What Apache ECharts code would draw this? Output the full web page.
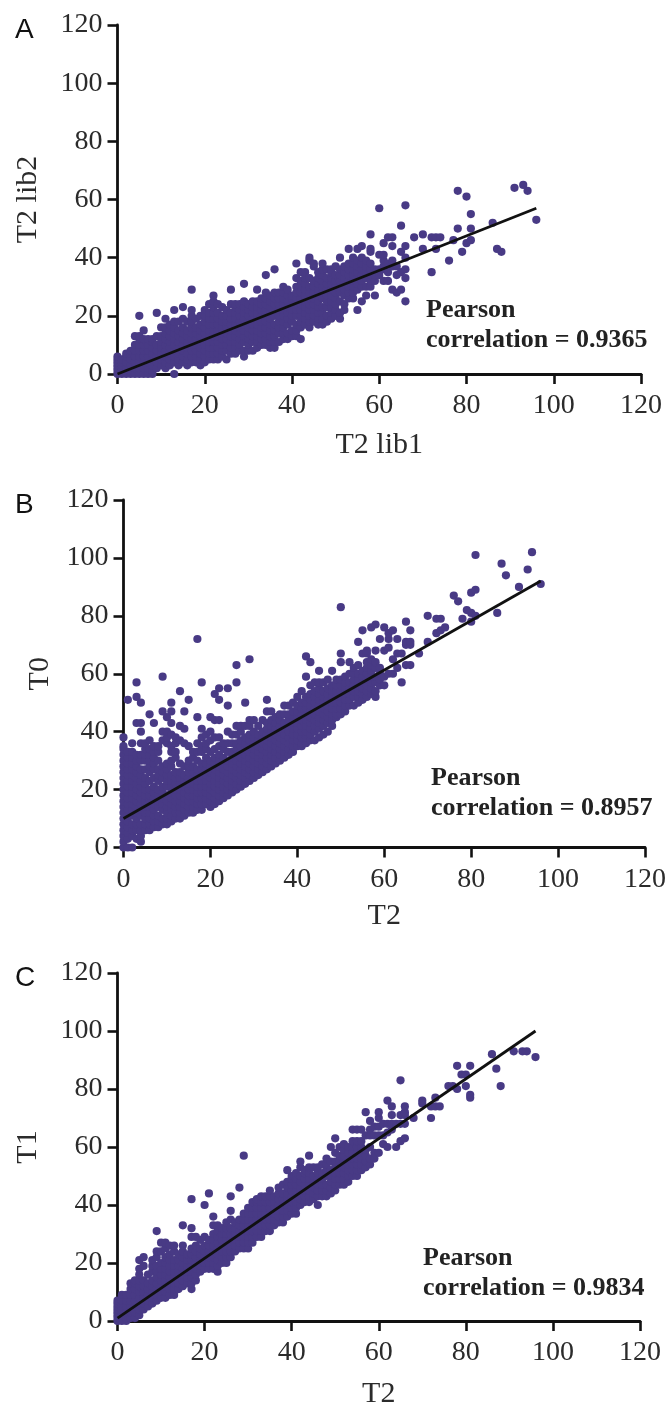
<!DOCTYPE html>
<html><head><meta charset="utf-8">
<style>html,body{margin:0;padding:0;background:#fff}#c{width:670px;height:1404px}</style>
<script src="https://cdn.jsdelivr.net/npm/echarts@6/dist/echarts.min.js"></script>
</head><body><div id="c"></div>
<script>
const tickValues = [0,20,40,60,80,100,120];
const panelLetters = ['A','B','C'];
const xNames = ['T2 lib1','T2','T2'];
const yNames = ['T2 lib2','T0','T1'];
const pearson = ['0.9365','0.8957','0.9834'];
const fitA = [[0,0],[96,57]];
const fitB = [[0,10],[96,92]];
const fitC = [[0,1],[96,100]];

// columns: [x, [y values read at that x]]
const columnsA = [
[0,[0,1,2,3,4,5,6]],[1,[0,1,2,3,4,5]],[2,[0,2,4,6,7]],[3,[0,1,3,5,7,8]],[4,[0,2,4,6,8,10,13]],
[5,[0,2,4,6,8,10,12,13,20]],[6,[0,2,4,6,8,10,12,15]],[7,[0,2,4,6,8,10,12]],[8,[0,1,3,5,7,9,11,12]],
[9,[2,4,6,8,10,13,21]],[10,[3,5,7,9,11,13,16]],[11,[2,4,6,8,10,12,14,16,19]],[12,[3,5,7,9,11,13,15,17]],
[13,[0,4,6,8,10,12,14,16,18,22]],[14,[3,5,7,9,11,13,15,18]],[15,[4,6,8,10,12,14,16,19,23]],
[16,[3,5,7,9,11,13,15,18]],[17,[4,6,8,10,12,14,16,18,20,22,29]],[18,[4,6,8,10,12,14,16,19]],
[19,[3,5,7,9,11,13,15,17,20]],[20,[4,6,8,10,12,14,16,18,20,22]],[21,[5,7,9,11,13,15,17,19,21,24]],
[22,[5,7,9,11,13,15,17,19,21,23,25,27]],[23,[5,7,9,11,13,15,17,19,21,24]],[24,[6,8,10,12,14,16,18,20,23]],
[25,[5,8,10,12,14,16,18,20,22]],[26,[7,9,11,13,15,17,19,21,24,29]],[27,[7,9,11,13,15,17,19,21,23,24]],
[28,[8,10,12,14,16,18,20,22,24]],[29,[6,8,11,13,15,17,19,21,23,25,31]],[30,[8,10,12,14,16,18,20,22,24]],
[31,[8,11,13,15,17,19,21,23,25]],[32,[9,11,13,15,17,19,21,23,25,29]],[33,[10,12,14,16,18,20,22,24,26]],
[34,[10,12,14,16,18,20,22,24,26,28,34]],[35,[9,11,13,15,17,19,21,23,25,27]],[36,[9,11,13,15,17,20,22,24,26,28,36]],
[37,[11,14,16,18,20,22,24,26,28]],[38,[12,14,16,18,20,22,24,26,28,30]],[39,[12,14,17,19,21,23,25,27,29]],
[40,[13,15,18,20,22,24,26,27]],[41,[13,15,17,20,22,24,26,28,30,33,38]],[42,[12,16,18,20,22,24,26,28,30,32,35]],
[43,[17,19,21,23,25,27,29,31,33,35]],[44,[16,18,20,22,24,26,28,30,33,39,40]],[45,[18,20,22,24,26,28,30,32,37,38]],
[46,[17,19,21,23,25,27,29,31,33,35]],[47,[17,19,21,23,26,28,30,32,34,36,38]],[48,[18,20,23,25,27,29,31,33,36]],
[49,[19,21,23,25,27,29,31,33,35,36]],[50,[20,22,24,26,28,30,32,34,37]],[51,[19,21,25,28,30,32,34,36,40]],
[52,[22,24,27,29,31,33,35,37]],[53,[26,28,30,32,34,36,38,43]],[54,[26,28,30,32,34,36,38,40]],
[55,[22,29,31,33,35,37,39,43]],[56,[25,30,32,34,36,38,40,44]],[57,[27,30,33,35,37,39]],
[58,[30,32,34,36,38,42,43,48]],[59,[27,32,34,36]],[60,[34,36,41,57]],[61,[32,36,37,39,41,45]],
[62,[32,35,38,47]],[63,[29,37,39,44,47]],[64,[28,34,37]],[65,[29,35,42,51]],[66,[25,33,36,40,44,58]]
];
const pointsA = [[68,47],[70,48],[70,43],[72,47],[73,47],[74,47],[72,35],[73,43],[76,39],[77,46],[78,63],[78,50],
[79,42],[80,61],[80,45],[81,55],[81,50],[81,46],[86,52],[87,43],[88,42],[91,64],[93,65],[94,63],[96,53]];

const columnsB = [
[0,[0,2,4,6,8,10,12,14,16,18,20,22,24,26,28,30,32,34,35,38]],[1,[0,3,5,7,9,11,13,15,17,19,21,23,25,27,29,31,33,51]],
[2,[0,4,6,8,11,13,15,17,19,21,23,25,27,29,31,33,36]],[3,[3,6,8,10,12,14,16,18,20,22,24,26,28,30,32,43,52,57]],
[4,[2,4,6,8,11,13,15,17,19,21,23,25,27,30,32,36,40,43,50]],[5,[6,8,10,12,14,16,18,20,22,24,27,30,32,34,36]],
[6,[6,8,10,12,14,16,18,20,23,26,28,30,32,34,37,46]],[7,[7,9,11,13,15,17,19,21,24,27,29,31,33,35,43]],
[8,[7,9,11,14,16,18,20,23,25,27,30,33,35]],[9,[8,10,13,15,17,19,21,24,26,28,37,40,47,59]],
[10,[8,10,12,14,16,18,21,23,25,27,29,36,38,40,45]],[11,[9,11,13,15,17,19,21,23,25,28,30,33,35,39,43,47,50]],
[12,[10,12,14,16,18,20,22,24,26,31,33,36,38]],[13,[10,12,14,16,18,20,22,24,26,29,37,42,54]],
[14,[11,13,15,17,19,21,23,25,28,36,41,47]],[15,[12,14,16,18,20,22,24,26,28,30,35,51]],
[16,[12,14,16,18,20,22,24,26,28,31,33]],[17,[13,15,17,19,21,23,25,27,30,33,36,45,72]],
[18,[13,15,17,19,21,23,25,27,29,33,35,38,41,57]],[19,[15,17,19,21,23,25,27,29,31,34,36,39]],
[20,[14,16,18,20,22,24,26,28,30,33,37,40,45]],[21,[15,17,19,21,23,25,27,29,31,34,38,44,53]],
[22,[16,18,20,22,24,26,28,30,32,35,38,44,51,55]],[23,[17,19,21,23,25,27,29,31,34,36]],
[24,[18,20,22,24,26,28,30,33,36,40,49,55]],[25,[19,21,23,25,27,29,31,33,36,39]],
[26,[20,22,24,26,28,30,32,34,36,39,42,57,63]],[27,[21,23,25,27,29,31,33,35,37,40,42]],
[28,[22,24,26,28,30,32,34,36,38,42,50]],[29,[23,25,27,29,31,33,35,37,39,42,44,65]],
[30,[24,26,28,30,32,34,36,38,40,44]],[31,[25,27,29,31,33,35,37,39,42]],[32,[26,28,30,32,34,36,38,40,44]],
[33,[27,29,31,33,35,37,39,41,43,47,51]],[34,[28,30,32,34,36,38,40,42,44,47]],[35,[29,31,33,35,37,39,41,43,45]],
[36,[30,32,34,36,38,40,42,44,46]],[37,[31,33,35,37,39,41,43,46,49]],[38,[32,34,36,38,40,42,44,46,49]],
[39,[33,35,37,39,41,43,45,47,50]],[40,[35,37,39,41,43,45,47,49,52]],[41,[35,36,38,40,42,44,46,48,50,54]],
[42,[36,38,40,42,44,46,48,50,52,59,66]],[43,[37,39,41,43,45,47,49,51,53,56,64]],[44,[37,40,42,44,46,48,50,52,54,57]],
[45,[38,41,43,45,47,49,51,53,55,57,61]],[46,[39,42,44,46,48,50,52,54,57]],[47,[40,43,45,47,49,51,53,55,58]],
[48,[42,44,46,48,50,52,54,56,61]],[49,[45,46,48,50,52,54,56,58]],[50,[46,48,50,52,54,56,58,64,67,83]],
[51,[47,49,51,53,55,57,59]],[52,[49,51,53,55,57,60,64]],[53,[49,52,54,56,58,60,62]],[54,[50,52,54,56,58,60,63,71]],
[55,[51,53,55,57,59,61,67,75]],[56,[52,54,56,58,60,62,64,67,68]],[57,[53,55,57,59,61,63,65,76]],
[58,[52,54,57,59,62,64,68,77]],[59,[56,58,60,62,72]],[60,[56,59,68,76]],[61,[60,69,72,74]],
[62,[60,65,75]],[63,[62,67,72]],[64,[57,67]],[65,[63,70,71,78]],[66,[63,70,71,75]]
];
const pointsB = [[68,67],[70,71],[70,80],[72,74],[72,79],[73,75],[73,79],[74,76],[76,87],[77,85],[78,79],[79,82],
[80,78],[80,81],[80,88],[81,80],[81,89],[81,101],[86,81],[87,98],[88,94],[91,90],[93,96],[94,102],[96,91]];

const columnsC = [
[0,[0,1,2,3,4,5,6,7]],[1,[0,1,2,3,4,5,6,7,9]],[2,[0,1,3,5,7,9]],[3,[1,3,5,7,9,11,13]],[4,[1,3,5,7,9,11,13,14]],
[5,[2,4,6,8,10,12,14,16,18,21]],[6,[4,6,8,10,12,14,19,22]],[7,[5,7,9,11,13,16]],[8,[6,8,10,12,14,17,19,21]],
[9,[7,9,11,13,15,17,19,22,24,31]],[10,[8,10,12,14,16,18,20,24,27]],[11,[8,10,12,14,16,18,20,22,25,27]],
[12,[9,11,13,15,17,19,21,23,26]],[13,[9,11,13,15,17,19,21,24,26]],[14,[11,13,15,17,19,21,23]],
[15,[12,14,16,18,20,22,24,26,33]],[16,[13,15,17,19,21,23]],[17,[11,13,15,17,19,21,23,25,29,32,42]],
[18,[14,16,18,20,22,24,26,29]],[19,[17,19,21,23,25,28]],[20,[18,20,22,24,26,29,40]],
[21,[18,20,22,24,26,28,44]],[22,[18,20,22,24,26,28,30,33,36]],[23,[17,19,21,23,25,27,29,31,33]],
[24,[20,22,24,26,28,30,32]],[25,[20,22,24,26,28,30,32,34]],[26,[22,24,26,28,30,32,35,38,43]],
[27,[24,26,28,30,32,34]],[28,[25,27,29,31,33,35,46]],[29,[25,27,29,31,33,35,37,57]],
[30,[25,27,29,31,33,35,37,39]],[31,[27,29,31,33,35,37,39,41]],[32,[29,31,33,35,37,39,41,42]],
[33,[29,31,33,35,37,39,41,43]],[34,[31,33,35,37,39,41,43]],[35,[31,33,35,37,39,41,43,45]],
[36,[33,35,37,39,41,43]],[37,[34,36,38,40,42,44,46]],[38,[34,36,38,40,42,44,47]],[39,[36,38,40,42,44,46,48,52]],
[40,[37,39,41,43,45,47,49,50]],[41,[37,39,41,43,45,47,49,51]],[42,[40,42,44,46,48,50,53,55]],
[43,[41,43,45,47,49,51,52]],[44,[41,43,45,47,49,51,53,57]],[45,[42,44,46,48,50,53]],[46,[40,43,45,47,49,51,53]],
[47,[43,45,47,49,51,54]],[48,[43,45,47,50,52,54,56]],[49,[44,46,48,50,52,55,60]],[50,[45,47,49,51,53,55,58,63]],
[51,[47,49,51,53,55,57,60]],[52,[47,49,51,53,55,57,59,61]],[53,[48,50,52,54,56,58,60]],[54,[50,52,54,56,58,60,62,66]],
[55,[50,52,54,56,58,60,62,66]],[56,[52,54,56,58,60,62,66]],[57,[53,55,57,59,64,72]],[58,[54,56,60,64,66,69]],
[59,[56,58,64,67]],[60,[58,64,67,70,72]],[61,[61,64,68]],[62,[60,65,68,76]],[63,[66,68,71,74]],
[64,[60,68]],[65,[62,68,71,83]],[66,[63,68,71,72,74]]
];
const pointsC = [[68,70],[70,75],[70,76],[72,70],[72,74],[73,74],[73,77],[74,74],[76,81],[77,81],[78,80],[78,88],
[79,85],[80,81],[80,85],[81,77],[81,78],[81,88],[86,92],[87,87],[88,81],[91,93],[93,93],[94,93],[96,91]];

const flatten = (cols, pts) => cols.flatMap(c => c[1].map(y => [c[0], y])).concat(pts);

const purple = '#483a85', ink = '#2b2b2b', serif = '"Liberation Serif"';
const grids = [
  {left:117.5, right:29, top:25, height:349, outerBoundsMode:'none'},
  {left:123.5, right:25, top:500, height:347.5, outerBoundsMode:'none'},
  {left:117.5, right:30, top:973, height:348, outerBoundsMode:'none'}
];
const yGap = [74, 61, 74], xGap = [56, 54, 58];
const axisCommon = {
  min:0, max:120, interval:20, axisLine:{onZero:true, lineStyle:{color:'#111', width:2.8}},
  axisTick:{show:true, length:10, lineStyle:{color:'#111', width:2.6}},
  splitLine:{show:false},
  nameLocation:'middle',
  nameTextStyle:{fontFamily:serif, fontSize:30, color:ink}
};
const labelStyle = {fontFamily:serif, fontSize:28, color:ink, formatter:v => String(tickValues.includes(v) ? v : '')};

const data = [flatten(columnsA,pointsA), flatten(columnsB,pointsB), flatten(columnsC,pointsC)];
const fits = [fitA, fitB, fitC];
const series = [];
data.forEach((d,i) => {
  series.push({type:'scatter', xAxisIndex:i, yAxisIndex:i, data:d, symbolSize:8.2, clip:false, silent:true,
    itemStyle:{color:purple, opacity:1}, z:3});
  series.push({type:'line', xAxisIndex:i, yAxisIndex:i, data:fits[i], symbol:'none', silent:true,
    lineStyle:{color:'#111', width:2.8}, z:4});
});
const letterPos = [[15,16],[15,491],[15,964]];
const pearsonPos = [[426,297],[431,765],[423,1245]];
const titles = [];
panelLetters.forEach((l,i) => {
  titles.push({text:l, left:letterPos[i][0], top:letterPos[i][1], padding:0,
    textStyle:{fontFamily:'"Liberation Sans"', fontWeight:'normal', fontSize:28, color:'#111'}});
  titles.push({text:'Pearson', left:pearsonPos[i][0], top:pearsonPos[i][1], padding:0,
    textStyle:{fontFamily:serif, fontWeight:'bold', fontSize:26, color:'#222'}});
  titles.push({text:'correlation = ' + pearson[i], left:pearsonPos[i][0], top:pearsonPos[i][1]+30, padding:0,
    textStyle:{fontFamily:serif, fontWeight:'bold', fontSize:26, color:'#222'}});
});
const chart = echarts.init(document.getElementById('c'), null, {renderer:'canvas'});
chart.setOption({
  animation:false, backgroundColor:'#fff',
  title:titles, grid:grids,
  xAxis:grids.map((g,i)=>({...axisCommon, type:'value', gridIndex:i, name:xNames[i], nameGap:xGap[i],
    axisLabel:{...labelStyle, margin:18}})),
  yAxis:grids.map((g,i)=>({...axisCommon, type:'value', gridIndex:i, name:yNames[i], nameGap:yGap[i],
    axisLabel:{...labelStyle, margin:15, padding:[3,0,0,0]}})),
  series
});
</script></body></html>
